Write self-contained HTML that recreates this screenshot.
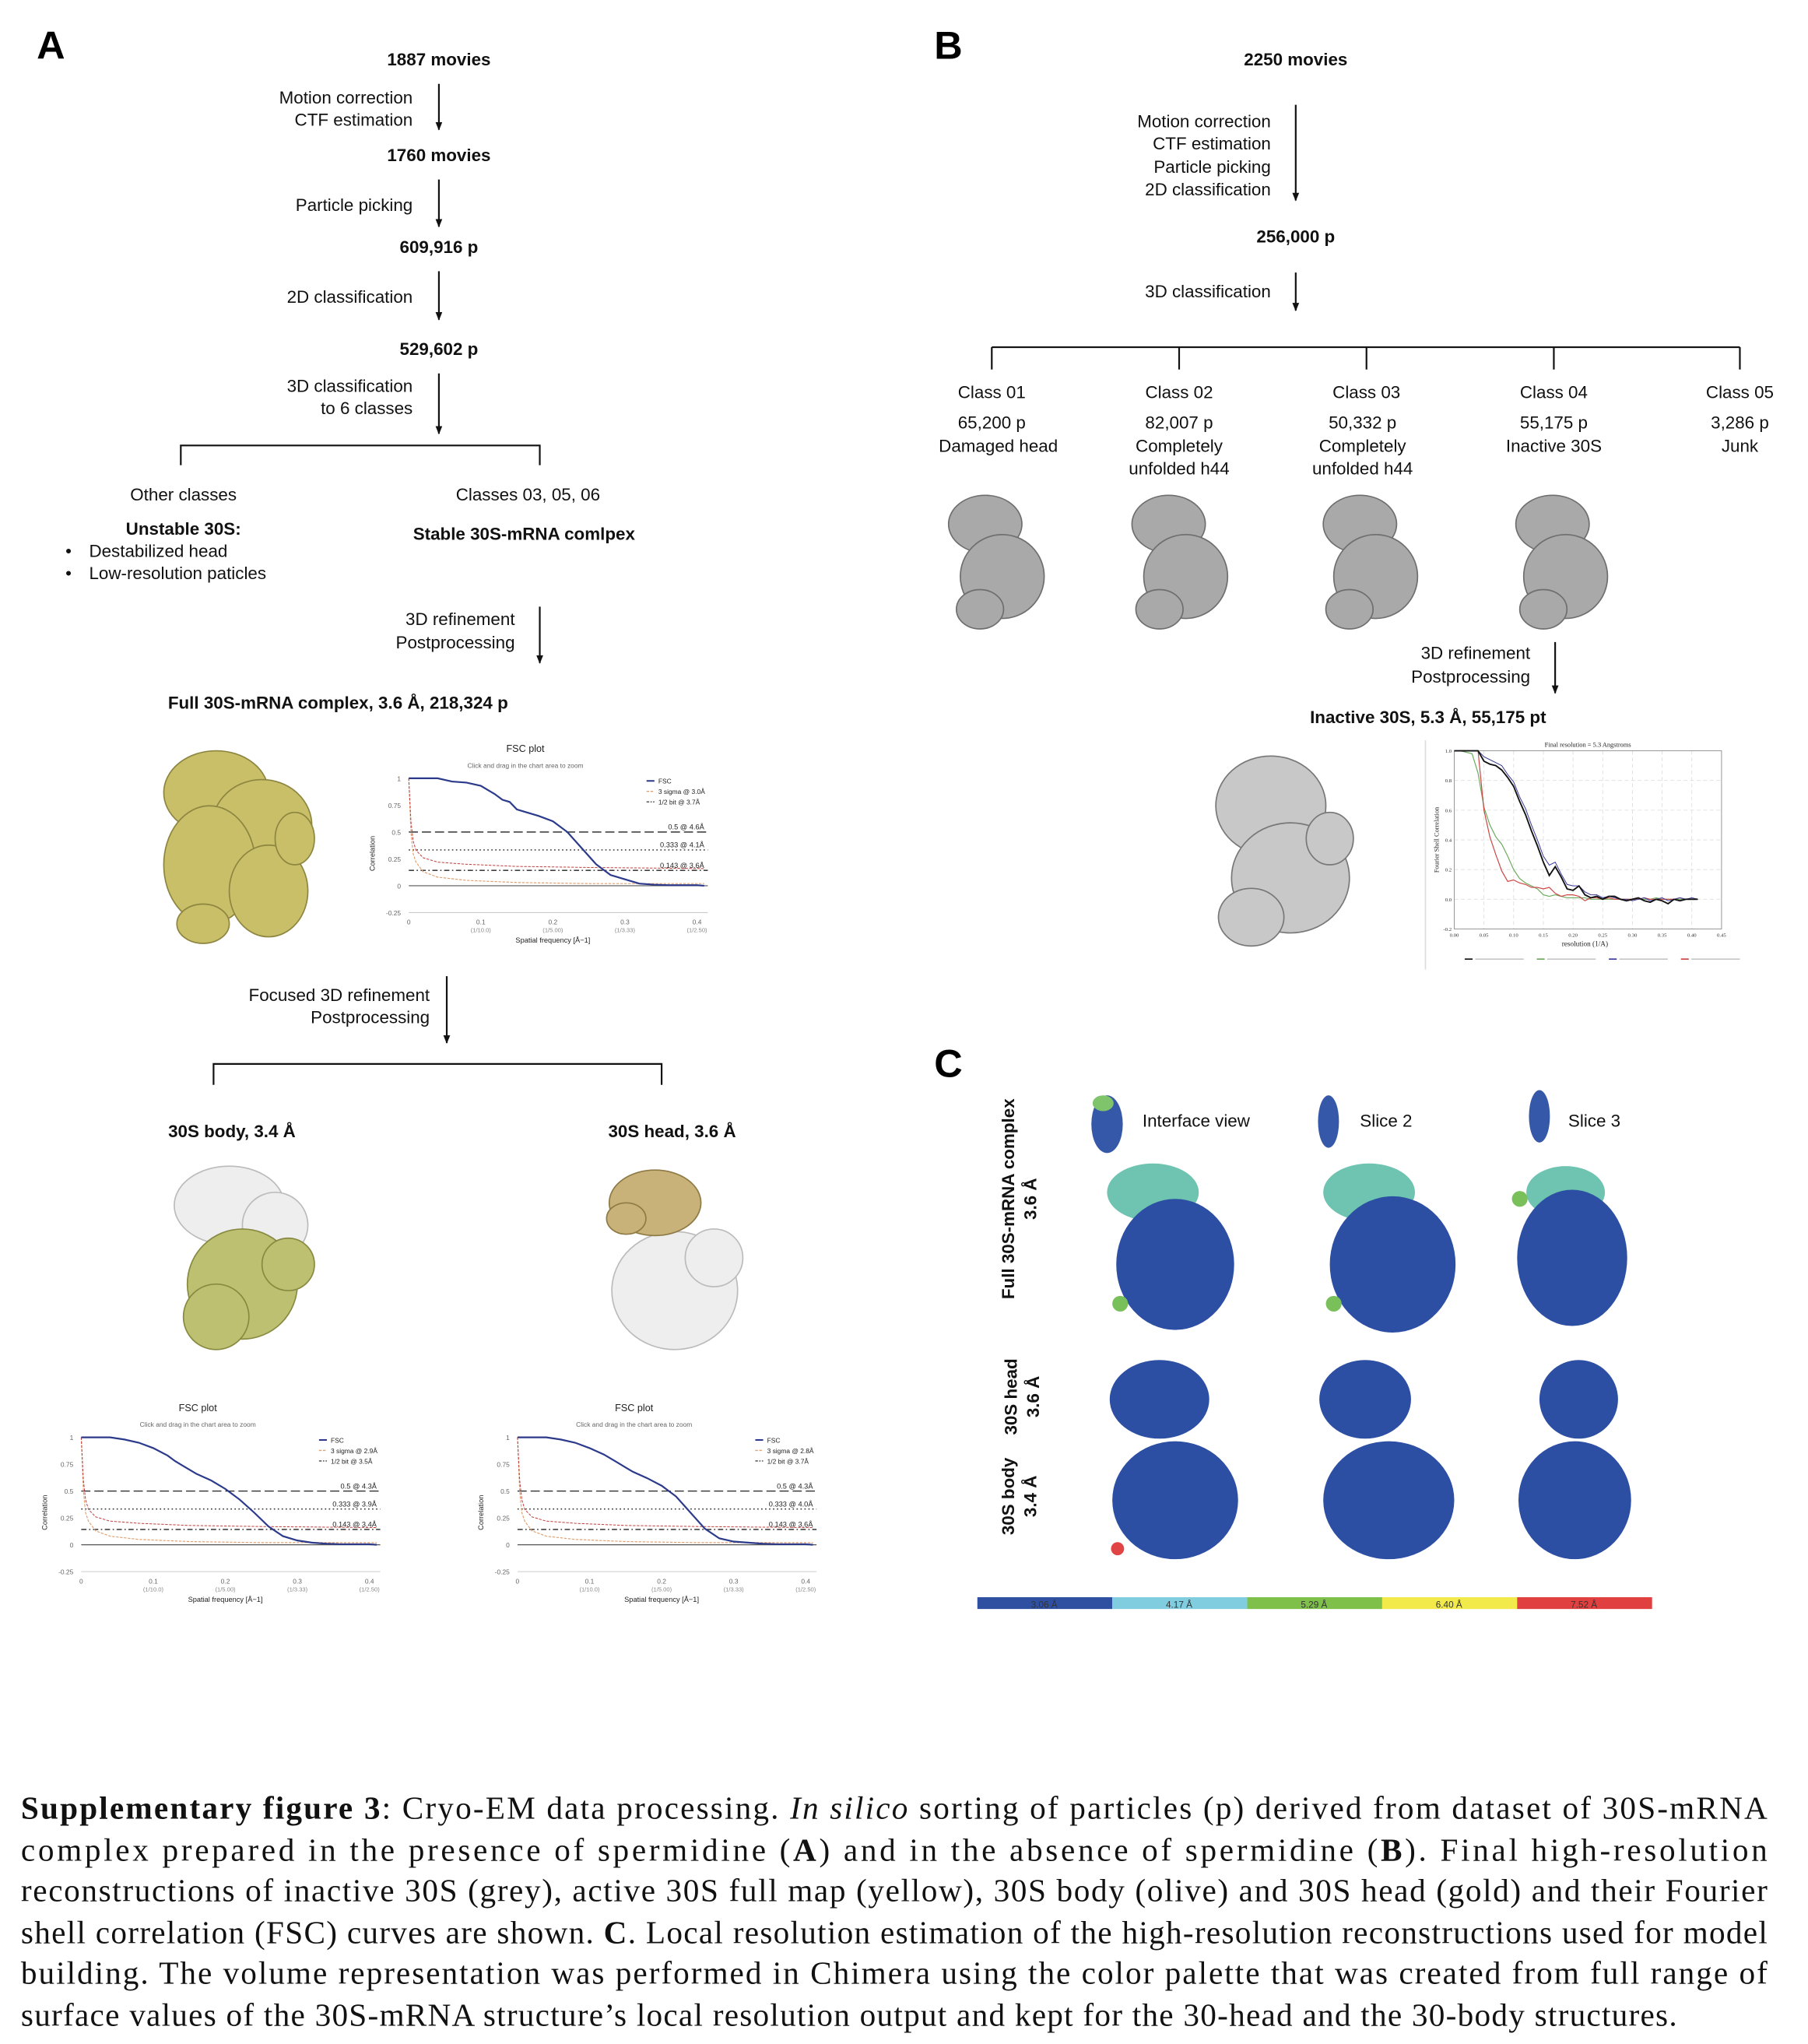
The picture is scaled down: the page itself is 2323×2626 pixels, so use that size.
<!DOCTYPE html>
<html><head><meta charset="utf-8"><style>
html,body{margin:0;padding:0;background:#fff}
svg{display:block}
.t{font-family:"Liberation Sans",sans-serif;font-size:13.3px;fill:#111}
.b{font-weight:bold}
.cap{font-family:"Liberation Serif",serif;font-size:24.5px;fill:#111}
</style></head><body>
<svg id="fig" xmlns="http://www.w3.org/2000/svg" width="2323" height="2626" viewBox="0 0 1380 1560">
<defs>
<marker id="ah" viewBox="0 0 10 10" refX="9" refY="5" markerWidth="5" markerHeight="6" orient="auto"><path d="M0,1 L10,5 L0,9 z" fill="#111"/></marker>
</defs>
<g id="panelA">
<text x="28" y="45" style="font-family:'Liberation Sans',sans-serif;font-size:30px;font-weight:bold">A</text>
<g class="t" text-anchor="middle">
<text class="t b" x="335" y="50">1887 movies</text>
<text class="t b" x="335" y="123">1760 movies</text>
<text class="t b" x="335" y="193">609,916 p</text>
<text class="t b" x="335" y="271">529,602 p</text>
<text class="t" x="140" y="382">Other classes</text>
<text class="t" x="403" y="382">Classes 03, 05, 06</text>
<text class="t b" x="140" y="408">Unstable 30S:</text>
<text class="t b" x="400" y="412">Stable 30S-mRNA comlpex</text>
<text class="t b" x="258" y="541">Full 30S-mRNA complex, 3.6 Å, 218,324 p</text>
<text class="t b" x="177" y="868">30S body, 3.4 Å</text>
<text class="t b" x="513" y="868">30S head, 3.6 Å</text>
</g>
<g text-anchor="end">
<text class="t" x="315" y="79">Motion correction</text>
<text class="t" x="315" y="96">CTF estimation</text>
<text class="t" x="315" y="161">Particle picking</text>
<text class="t" x="315" y="231">2D classification</text>
<text class="t" x="315" y="299">3D classification</text>
<text class="t" x="315" y="316">to 6 classes</text>
<text class="t" x="393" y="477">3D refinement</text>
<text class="t" x="393" y="495">Postprocessing</text>
<text class="t" x="328" y="764">Focused 3D refinement</text>
<text class="t" x="328" y="781">Postprocessing</text>
</g>
<text class="t" x="50" y="425">•</text><text class="t" x="68" y="425">Destabilized head</text>
<text class="t" x="50" y="442">•</text><text class="t" x="68" y="442">Low-resolution paticles</text>
<g stroke="#111" stroke-width="1.3" fill="none">
<line x1="335" y1="64" x2="335" y2="99" marker-end="url(#ah)"/>
<line x1="335" y1="137" x2="335" y2="173" marker-end="url(#ah)"/>
<line x1="335" y1="207" x2="335" y2="244" marker-end="url(#ah)"/>
<line x1="335" y1="285" x2="335" y2="331" marker-end="url(#ah)"/>
<line x1="412" y1="463" x2="412" y2="506" marker-end="url(#ah)"/>
<line x1="341" y1="745" x2="341" y2="796" marker-end="url(#ah)"/>
<polyline points="138,355 138,340 412,340 412,355"/>
<polyline points="163,828 163,812 505,812 505,828"/>
</g>
<g fill="#c8bf68" stroke="#8d8540" stroke-width="1">
<ellipse cx="165" cy="605" rx="40" ry="32"/><ellipse cx="200" cy="630" rx="38" ry="35"/>
<ellipse cx="160" cy="660" rx="35" ry="45"/><ellipse cx="205" cy="680" rx="30" ry="35"/>
<ellipse cx="225" cy="640" rx="15" ry="20"/><ellipse cx="155" cy="705" rx="20" ry="15"/>
</g>
<g>
<g fill="#eeeeee" stroke="#bbb"><ellipse cx="175" cy="920" rx="42" ry="30"/><ellipse cx="210" cy="935" rx="25" ry="25"/></g>
<g fill="#bcc070" stroke="#878a40"><ellipse cx="185" cy="980" rx="42" ry="42"/><ellipse cx="165" cy="1005" rx="25" ry="25"/><ellipse cx="220" cy="965" rx="20" ry="20"/></g>
</g>
<g>
<g fill="#eeeeee" stroke="#bbb"><ellipse cx="515" cy="985" rx="48" ry="45"/><ellipse cx="545" cy="960" rx="22" ry="22"/></g>
<g fill="#c9b27a" stroke="#8e7a45"><ellipse cx="500" cy="918" rx="35" ry="25"/><ellipse cx="478" cy="930" rx="15" ry="12"/></g>
</g>
<g id="fscA"></g>
<g id="fscBody"></g>
<g id="fscHead"></g>
</g>

<g id="panelB">
<text x="713" y="45" style="font-family:'Liberation Sans',sans-serif;font-size:30px;font-weight:bold">B</text>
<g text-anchor="middle">
<text class="t b" x="989" y="50">2250 movies</text>
<text class="t b" x="989" y="185">256,000 p</text>
<text class="t" x="757" y="304">Class 01</text><text class="t" x="757" y="327">65,200 p</text><text class="t" x="762" y="345">Damaged head</text>
<text class="t" x="900" y="304">Class 02</text><text class="t" x="900" y="327">82,007 p</text><text class="t" x="900" y="345">Completely</text><text class="t" x="900" y="362">unfolded h44</text>
<text class="t" x="1043" y="304">Class 03</text><text class="t" x="1040" y="327">50,332 p</text><text class="t" x="1040" y="345">Completely</text><text class="t" x="1040" y="362">unfolded h44</text>
<text class="t" x="1186" y="304">Class 04</text><text class="t" x="1186" y="327">55,175 p</text><text class="t" x="1186" y="345">Inactive 30S</text>
<text class="t" x="1328" y="304">Class 05</text><text class="t" x="1328" y="327">3,286 p</text><text class="t" x="1328" y="345">Junk</text>
<text class="t b" x="1090" y="552">Inactive 30S, 5.3 Å, 55,175 pt</text>
</g>
<g text-anchor="end">
<text class="t" x="970" y="97">Motion correction</text>
<text class="t" x="970" y="114">CTF estimation</text>
<text class="t" x="970" y="132">Particle picking</text>
<text class="t" x="970" y="149">2D classification</text>
<text class="t" x="970" y="227">3D classification</text>
<text class="t" x="1168" y="503">3D refinement</text>
<text class="t" x="1168" y="521">Postprocessing</text>
</g>
<g stroke="#111" stroke-width="1.3" fill="none">
<line x1="989" y1="80" x2="989" y2="153" marker-end="url(#ah)"/>
<line x1="989" y1="208" x2="989" y2="237" marker-end="url(#ah)"/>
<line x1="1187" y1="490" x2="1187" y2="529" marker-end="url(#ah)"/>
<polyline points="757,265 1328,265"/>
<line x1="757" y1="265" x2="757" y2="282"/><line x1="900" y1="265" x2="900" y2="282"/><line x1="1043" y1="265" x2="1043" y2="282"/><line x1="1186" y1="265" x2="1186" y2="282"/><line x1="1328" y1="265" x2="1328" y2="282"/>
</g>
<g fill="#a9a9a9" stroke="#6e6e6e" stroke-width="1">
<g><ellipse cx="752" cy="400" rx="28" ry="22"/><ellipse cx="765" cy="440" rx="32" ry="32"/><ellipse cx="748" cy="465" rx="18" ry="15"/></g>
<g><ellipse cx="892" cy="400" rx="28" ry="22"/><ellipse cx="905" cy="440" rx="32" ry="32"/><ellipse cx="885" cy="465" rx="18" ry="15"/></g>
<g><ellipse cx="1038" cy="400" rx="28" ry="22"/><ellipse cx="1050" cy="440" rx="32" ry="32"/><ellipse cx="1030" cy="465" rx="18" ry="15"/></g>
<g><ellipse cx="1185" cy="400" rx="28" ry="22"/><ellipse cx="1195" cy="440" rx="32" ry="32"/><ellipse cx="1178" cy="465" rx="18" ry="15"/></g>
</g>
<g fill="#c8c8c8" stroke="#777">
<ellipse cx="970" cy="615" rx="42" ry="38"/><ellipse cx="985" cy="670" rx="45" ry="42"/><ellipse cx="955" cy="700" rx="25" ry="22"/><ellipse cx="1015" cy="640" rx="18" ry="20"/>
</g>
<g id="fscB"></g>
</g>

<g id="panelC">
<text x="713" y="822" style="font-family:'Liberation Sans',sans-serif;font-size:30px;font-weight:bold">C</text>
<text class="t" x="872" y="860">Interface view</text>
<text class="t" x="1038" y="860">Slice 2</text>
<text class="t" x="1197" y="860">Slice 3</text>
<g fill="#3658a8"><ellipse cx="845" cy="858" rx="12" ry="22"/><ellipse cx="1014" cy="856" rx="8" ry="20"/><ellipse cx="1175" cy="852" rx="8" ry="20"/></g>
<g fill="#7fc36a"><ellipse cx="842" cy="842" rx="8" ry="6"/></g>
<g font-weight="bold" class="t">
<text class="t b" transform="translate(774,915) rotate(-90)" text-anchor="middle">Full 30S-mRNA  complex</text>
<text class="t b" transform="translate(791,915) rotate(-90)" text-anchor="middle">3.6 Å</text>
<text class="t b" transform="translate(776,1066) rotate(-90)" text-anchor="middle">30S head</text>
<text class="t b" transform="translate(793,1066) rotate(-90)" text-anchor="middle">3.6 Å</text>
<text class="t b" transform="translate(774,1142) rotate(-90)" text-anchor="middle">30S body</text>
<text class="t b" transform="translate(791,1142) rotate(-90)" text-anchor="middle">3.4 Å</text>
</g>
<g>
<g fill="#6ec4b0"><ellipse cx="880" cy="910" rx="35" ry="22"/><ellipse cx="1045" cy="910" rx="35" ry="22"/><ellipse cx="1195" cy="910" rx="30" ry="20"/></g>
<g fill="#2d4fa3">
<ellipse cx="897" cy="965" rx="45" ry="50"/><ellipse cx="1063" cy="965" rx="48" ry="52"/><ellipse cx="1200" cy="960" rx="42" ry="52"/>
<ellipse cx="885" cy="1068" rx="38" ry="30"/><ellipse cx="1042" cy="1068" rx="35" ry="30"/><ellipse cx="1205" cy="1068" rx="30" ry="30"/>
<ellipse cx="897" cy="1145" rx="48" ry="45"/><ellipse cx="1060" cy="1145" rx="50" ry="45"/><ellipse cx="1202" cy="1145" rx="43" ry="45"/>
</g>
<g fill="#7ac05a"><circle cx="855" cy="995" r="6"/><circle cx="1018" cy="995" r="6"/><circle cx="1160" cy="915" r="6"/></g>
<g fill="#e04444"><circle cx="853" cy="1182" r="5"/></g>
</g>
<g>
<rect x="746" y="1219" width="103" height="9" fill="#2f4fa0"/>
<rect x="849" y="1219" width="103" height="9" fill="#80cde0"/>
<rect x="952" y="1219" width="103" height="9" fill="#7ec04a"/>
<rect x="1055" y="1219" width="103" height="9" fill="#f2ea4a"/>
<rect x="1158" y="1219" width="103" height="9" fill="#e04040"/>
<g font-family="Liberation Sans" font-size="7" text-anchor="middle" fill="#333">
<text x="797" y="1227">3.06 Å</text><text x="900" y="1227">4.17 Å</text><text x="1003" y="1227">5.29 Å</text><text x="1106" y="1227">6.40 Å</text><text x="1209" y="1227">7.52 Å</text>
</g></g>
</g>

<g class="cap">
<text class="cap" x="16" y="1388" textLength="1333" lengthAdjust="spacing"><tspan font-weight="bold">Supplementary figure 3</tspan>: Cryo-EM data processing. <tspan font-style="italic">In silico</tspan> sorting of particles (p) derived from dataset of 30S-mRNA</text>
<text class="cap" x="16" y="1420" textLength="1333" lengthAdjust="spacing">complex prepared in the presence of spermidine (<tspan font-weight="bold">A</tspan>) and in the absence of spermidine (<tspan font-weight="bold">B</tspan>). Final high-resolution</text>
<text class="cap" x="16" y="1451" textLength="1333" lengthAdjust="spacing">reconstructions of inactive 30S (grey), active 30S full map (yellow), 30S body (olive) and 30S head (gold) and their Fourier</text>
<text class="cap" x="16" y="1483" textLength="1333" lengthAdjust="spacing">shell correlation (FSC) curves are shown. <tspan font-weight="bold">C</tspan>. Local resolution estimation of the high-resolution reconstructions used for model</text>
<text class="cap" x="16" y="1514" textLength="1333" lengthAdjust="spacing">building. The volume representation was performed in Chimera using the color palette that was created from full range of</text>
<text class="cap" x="16" y="1546" textLength="1264" lengthAdjust="spacing">surface values of the 30S-mRNA structure’s local resolution output and kept for the 30-head and the 30-body structures.</text>
</g>
</svg>
<script>
const fscFreq = [0,0.02,0.04,0.06,0.08,0.1,0.12,0.13,0.14,0.15,0.16,0.18,0.2,0.22,0.24,0.26,0.28,0.3,0.32,0.34,0.36,0.38,0.4,0.41];
const fscFull = [1,1,1,0.97,0.96,0.93,0.85,0.8,0.78,0.71,0.69,0.65,0.6,0.5,0.35,0.2,0.1,0.06,0.02,0.01,0.005,0.005,0.005,0];
const fscBodyVals = [1,1,1,0.98,0.95,0.9,0.83,0.78,0.74,0.7,0.66,0.6,0.52,0.42,0.3,0.17,0.08,0.04,0.02,0.01,0.005,0.005,0.005,0];
const fscHeadVals = [1,1,1,0.98,0.95,0.9,0.84,0.8,0.76,0.72,0.68,0.62,0.55,0.45,0.3,0.15,0.06,0.03,0.02,0.01,0.005,0.005,0.005,0];
const noiseFreq = [0,0.003,0.006,0.01,0.02,0.04,0.08,0.15,0.25,0.41];
const halfBitVals = [1,0.6,0.42,0.33,0.26,0.22,0.2,0.18,0.17,0.16];
const sigmaVals = [1,0.5,0.3,0.22,0.13,0.08,0.05,0.03,0.02,0.02];
const yTicksA = [1,0.75,0.5,0.25,0,-0.25];
const xTicksA = [0,0.1,0.2,0.3,0.4];
const xSubA = ["","(1/10.0)","(1/5.00)","(1/3.33)","(1/2.50)"];
const thresholds = [0.5,0.333,0.143];
const labelsFull = ["0.5 @ 4.6Å","0.333 @ 4.1Å","0.143 @ 3.6Å"];
const labelsBody = ["0.5 @ 4.3Å","0.333 @ 3.9Å","0.143 @ 3.4Å"];
const labelsHead = ["0.5 @ 4.3Å","0.333 @ 4.0Å","0.143 @ 3.6Å"];
const legendFull = ["FSC","3 sigma @ 3.0Å","1/2 bit @ 3.7Å"];
const legendBody = ["FSC","3 sigma @ 2.9Å","1/2 bit @ 3.5Å"];
const legendHead = ["FSC","3 sigma @ 2.8Å","1/2 bit @ 3.7Å"];

const freqB = [0,0.01,0.02,0.03,0.04,0.05,0.06,0.07,0.08,0.09,0.1,0.11,0.12,0.13,0.14,0.15,0.16,0.17,0.18,0.19,0.2,0.21,0.22,0.23,0.24,0.25,0.26,0.27,0.28,0.29,0.3,0.31,0.32,0.33,0.34,0.35,0.36,0.37,0.38,0.39,0.4,0.41];
const bBlack = [1,1,1,1,1,0.93,0.91,0.9,0.87,0.82,0.76,0.66,0.57,0.46,0.36,0.25,0.16,0.22,0.15,0.07,0.06,0.09,0.03,0.01,0.02,0,0.02,0.02,0,-0.01,0,0.01,-0.01,-0.02,0,-0.01,-0.03,0,-0.01,0,0,0];
const bBlue = [1,1,1,1,1,0.96,0.94,0.92,0.9,0.84,0.79,0.69,0.61,0.5,0.4,0.29,0.23,0.25,0.17,0.1,0.09,0.09,0.05,0.03,0.03,0.01,0.02,0.01,0,0,-0.01,0,0.01,-0.01,0,0.01,-0.01,0,0.01,0,0.01,0];
const bGreen = [1,1,0.99,0.98,0.85,0.62,0.5,0.42,0.37,0.29,0.2,0.14,0.11,0.09,0.07,0.03,0.02,0.03,0.02,0.01,0.01,0.01,0.01,0,0,0,0,0,0,0,0,0,0,0,0.01,0,0,0,0,0,0,0];
const bRed = [1,1,1,1,1,0.6,0.42,0.3,0.19,0.12,0.13,0.11,0.1,0.08,0.08,0.07,0.08,0.04,0.02,0.03,0.03,0.02,-0.01,0.01,0.01,0,0.01,0,0,0,0,0,0.01,0,0,0,0,0,0.01,0,0,0];
const xTicksB = [0,0.05,0.1,0.15,0.2,0.25,0.3,0.35,0.4,0.45];
const yTicksB = [1.0,0.8,0.6,0.4,0.2,0.0,-0.2];

const NS = "http://www.w3.org/2000/svg";
function mk(parent, tag, attrs, txt) {
  const e = document.createElementNS(NS, tag);
  for (const k in attrs) e.setAttribute(k, attrs[k]);
  if (txt !== undefined) e.textContent = txt;
  parent.appendChild(e);
  return e;
}
function pathOf(xs, ys, sx, sy) {
  return xs.map((x, i) => (i ? "L" : "M") + sx(x).toFixed(2) + "," + sy(ys[i]).toFixed(2)).join(" ");
}
function drawFSC(id, x0, y1, vals, labels, legend, cx) {
  const g = document.getElementById(id);
  const sx = f => x0 + f * 550;
  const sy = v => y1 + (1 - v) * 82;
  mk(g, "text", {x: cx, y: y1 - 20, "font-size": 7.5, "font-family": "Liberation Sans", "text-anchor": "middle", fill: "#222"}, "FSC plot");
  mk(g, "text", {x: cx, y: y1 - 8, "font-size": 5, "font-family": "Liberation Sans", "text-anchor": "middle", fill: "#666"}, "Click and drag in the chart area to zoom");
  yTicksA.forEach(t => {
    const tk = mk(g, "text", {x: x0 - 6, y: sy(t) + 2, "font-size": 5, "font-family": "Liberation Sans", "text-anchor": "end", fill: "#666"}, String(t));
    
    
  });
  xTicksA.forEach((t, i) => {
    const tk = mk(g, "text", {x: sx(t), y: sy(-0.25) + 9, "font-size": 5, "font-family": "Liberation Sans", "text-anchor": "middle", fill: "#666"}, String(t));
    
    
    mk(g, "text", {x: sx(t), y: sy(-0.25) + 15, "font-size": 4.5, "font-family": "Liberation Sans", "text-anchor": "middle", fill: "#888"}, xSubA[i]);
  });
  mk(g, "line", {x1: x0, x2: sx(0.415), y1: sy(-0.25), y2: sy(-0.25), stroke: "#ccc", "stroke-width": 0.6});
  mk(g, "line", {x1: x0, x2: sx(0.415), y1: sy(0), y2: sy(0), stroke: "#555", "stroke-width": 0.7});
  mk(g, "text", {x: sx(0.2), y: sy(-0.25) + 23, "font-size": 5.5, "font-family": "Liberation Sans", "text-anchor": "middle", fill: "#222"}, "Spatial frequency [Å−1]");
  mk(g, "text", {transform: "translate(" + (x0 - 26) + "," + sy(0.3) + ") rotate(-90)", "font-size": 5.5, "font-family": "Liberation Sans", "text-anchor": "middle", fill: "#222"}, "Correlation");
  const dashes = ["7,3", "1,2", "4,2,1,2"];
  thresholds.forEach((t, i) => {
    const l = mk(g, "line", {x1: x0, x2: sx(0.415), y1: sy(t), y2: sy(t), stroke: "#222", "stroke-width": 0.8, "stroke-dasharray": dashes[i]});
    
    
    mk(g, "text", {x: sx(0.41), y: sy(t) - 2, "font-size": 5.5, "font-family": "Liberation Sans", "text-anchor": "end", fill: "#222"}, labels[i]);
  });
  const s1 = mk(g, "path", {d: pathOf(noiseFreq, sigmaVals, sx, sy), fill: "none", stroke: "#e0a070", "stroke-width": 0.7, "stroke-dasharray": "2,1"});
  
  
  const s2 = mk(g, "path", {d: pathOf(noiseFreq, halfBitVals, sx, sy), fill: "none", stroke: "#c04040", "stroke-width": 0.6, "stroke-dasharray": "2,1"});
  
  
  const c = mk(g, "path", {d: pathOf(fscFreq, vals, sx, sy), fill: "none", stroke: "#2b3a8a", "stroke-width": 1.3});
  
  
  const lx = sx(0.33), ly = y1 + 2;
  const lstroke = [["#2b3a8a", "none", 1.2], ["#e0a070", "2,1", 0.8], ["#444", "2,1,1,1", 0.8]];
  legend.forEach((lab, i) => {
    mk(g, "line", {x1: lx, x2: lx + 6, y1: ly + i * 8, y2: ly + i * 8, stroke: lstroke[i][0], "stroke-dasharray": lstroke[i][1], "stroke-width": lstroke[i][2]});
    const lt = mk(g, "text", {x: lx + 9, y: ly + i * 8 + 2, "font-size": 5, "font-family": "Liberation Sans", fill: "#222"}, lab);
    
    
  });
}
drawFSC("fscA", 312, 594, fscFull, labelsFull, legendFull, 401);
drawFSC("fscBody", 62, 1097, fscBodyVals, labelsBody, legendBody, 151);
drawFSC("fscHead", 395, 1097, fscHeadVals, labelsHead, legendHead, 484);

(function () {
  const g = document.getElementById("fscB");
  const X0 = 1110, X1 = 1314, Y0 = 573, Y1 = 709;
  const sx = f => X0 + (f / 0.45) * (X1 - X0);
  const sy = v => Y1 - ((v + 0.2) / 1.2) * (Y1 - Y0);
  mk(g, "line", {x1: 1088, x2: 1088, y1: 565, y2: 740, stroke: "#ddd", "stroke-width": 1});
  xTicksB.forEach(t => {
    mk(g, "line", {x1: sx(t), x2: sx(t), y1: Y0, y2: Y1, stroke: "#ddd", "stroke-width": 0.5, "stroke-dasharray": "3,2"});
    const tk = mk(g, "text", {x: sx(t), y: Y1 + 6, "font-size": 4, "font-family": "Liberation Serif", "text-anchor": "middle", fill: "#333"}, t.toFixed(2));
    
    
  });
  yTicksB.forEach(t => {
    mk(g, "line", {x1: X0, x2: X1, y1: sy(t), y2: sy(t), stroke: "#ddd", "stroke-width": 0.5, "stroke-dasharray": "3,2"});
    const tk = mk(g, "text", {x: X0 - 2, y: sy(t) + 1.5, "font-size": 4, "font-family": "Liberation Serif", "text-anchor": "end", fill: "#333"}, t.toFixed(1));
    
    
  });
  mk(g, "rect", {x: X0, y: Y0, width: X1 - X0, height: Y1 - Y0, fill: "none", stroke: "#999", "stroke-width": 0.6});
  mk(g, "text", {x: (X0 + X1) / 2, y: 570, "font-size": 5, "font-family": "Liberation Serif", "text-anchor": "middle", fill: "#222"}, "Final resolution =   5.3 Angstroms");
  mk(g, "text", {x: sx(0.22), y: Y1 + 13, "font-size": 5.5, "font-family": "Liberation Serif", "text-anchor": "middle", fill: "#222"}, "resolution (1/A)");
  mk(g, "text", {transform: "translate(" + (X0 - 12) + "," + (Y0 + Y1) / 2 + ") rotate(-90)", "font-size": 5, "font-family": "Liberation Serif", "text-anchor": "middle", fill: "#222"}, "Fourier Shell Correlation");
  const series = [[bGreen, "#6aaa5a", 0.7], [bRed, "#cc4444", 0.7], [bBlue, "#3a3a9a", 0.6], [bBlack, "#111", 1.1]];
  series.forEach(s => {
    const p = mk(g, "path", {d: pathOf(freqB, s[0], sx, sy), fill: "none", stroke: s[1], "stroke-width": s[2]});
    
    
  });
  const lcol = ["#111", "#6aaa5a", "#3a3a9a", "#cc4444"];
  lcol.forEach((c, i) => {
    const x = 1118 + i * 55;
    mk(g, "line", {x1: x, x2: x + 6, y1: 732, y2: 732, stroke: c, "stroke-width": 1});
    mk(g, "line", {x1: x + 8, x2: x + 45, y1: 732, y2: 732, stroke: "#bbb", "stroke-width": 0.8});
  });
})();
</script>
</body></html>
